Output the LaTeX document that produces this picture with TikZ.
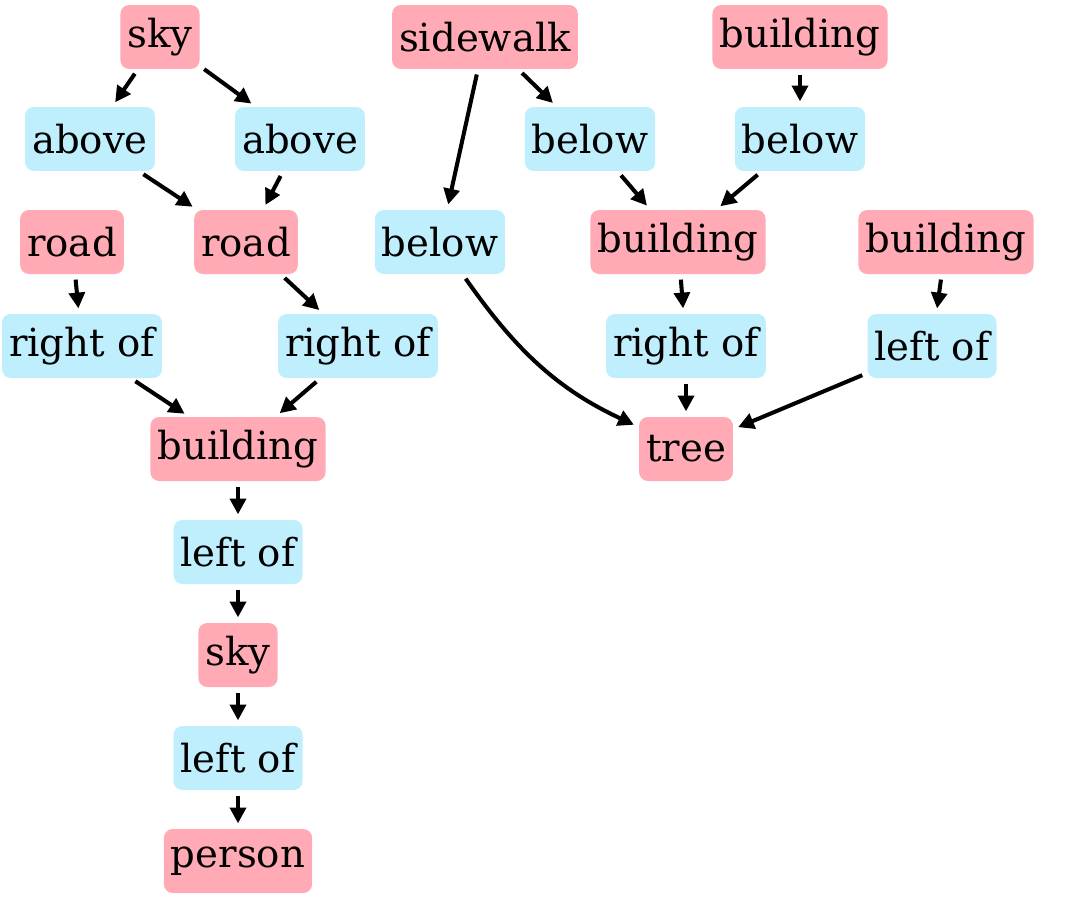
\documentclass[tikz,border=0pt]{standalone}
\usepackage{fontspec}
\setmainfont{DejaVu Serif}
\usetikzlibrary{arrows.meta}
\tikzset{
  obj/.style={fill=objpink, rounded corners=5pt, inner sep=4pt, minimum height=1.28cm},
  rel/.style={fill=relblue, rounded corners=5pt, inner sep=4pt, minimum height=1.28cm},
  link/.style={line width=2.3pt, -{Triangle[length=9pt,width=9pt]}, shorten >=3pt, shorten <=3pt}
}
\definecolor{objpink}{HTML}{FFAAB5}
\definecolor{relblue}{HTML}{BFEEFD}
\begin{document}
\begin{tikzpicture}[x=0.02cm, y=-0.02cm, font=\fontsize{22}{26}\selectfont]
  \useasboundingbox (0,0) rectangle (1065,900);
  % top rows
  \node[obj] (sky1) at (160,37) {sky};
  \node[obj] (walk) at (485,37) {sidewalk};
  \node[obj] (bld1) at (800,37) {building};
  \node[rel] (ab1) at (90,139) {above};
  \node[rel] (ab2) at (300,139) {above};
  \node[rel] (bl2) at (590,139) {below};
  \node[rel] (bl3) at (800,139) {below};
  \node[obj] (road1) at (72,242) {road};
  \node[obj] (road2) at (246,242) {road};
  \node[rel] (bl1) at (440,242) {below};
  \node[obj] (bld2) at (678,242) {building};
  \node[obj] (bld3) at (946,242) {building};
  \node[rel] (rt1) at (82,346) {right of};
  \node[rel] (rt2) at (358,346) {right of};
  \node[rel] (rt3) at (686,346) {right of};
  \node[rel] (lf1) at (932,346) {left of};
  \node[obj] (bld4) at (238,449) {building};
  \node[obj] (tree) at (686,449) {tree};
  % left column
  \node[rel] (lf2) at (238,552) {left of};
  \node[obj] (sky2) at (238,655) {sky};
  \node[rel] (lf3) at (238,758) {left of};
  \node[obj] (pers) at (238,861) {person};

  \draw[link] (sky1) -- (ab1);
  \draw[link] (sky1) -- (ab2);
  \draw[link] (ab1) -- (road2);
  \draw[link] (ab2) -- (road2);
  \draw[link] (road1) -- (rt1);
  \draw[link] (road2) -- (rt2);
  \draw[link] (rt1) -- (bld4);
  \draw[link] (rt2) -- (bld4);
  \draw[link] (bld4) -- (lf2);
  \draw[link] (lf2) -- (sky2);
  \draw[link] (sky2) -- (lf3);
  \draw[link] (lf3) -- (pers);
  \draw[link] (walk) -- (bl1);
  \draw[link] (walk) -- (bl2);
  \draw[link] (bld1) -- (bl3);
  \draw[link] (bl2) -- (bld2);
  \draw[link] (bl3) -- (bld2);
  \draw[link] (bl1) to[out=-55,in=155] (tree);
  \draw[link] (bld2) -- (rt3);
  \draw[link] (rt3) -- (tree);
  \draw[link] (bld3) -- (lf1);
  \draw[link] (lf1) -- (tree);
\end{tikzpicture}
\end{document}
